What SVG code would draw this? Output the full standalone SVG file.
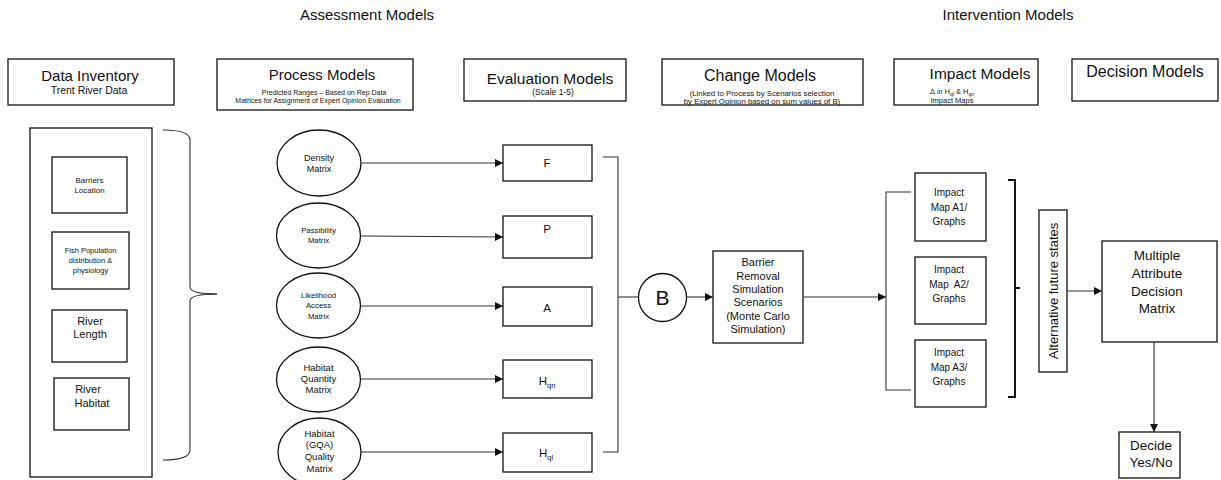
<svg xmlns="http://www.w3.org/2000/svg" width="1221" height="480" viewBox="0 0 1221 480">
  <style>
    text { font-family: "Liberation Sans", Arial, sans-serif; fill: #111; text-anchor: middle; }
    .box { fill: #fff; stroke: #111; stroke-width: 1.3; }
    .line { fill: none; stroke: #333; stroke-width: 1.1; }
    .arrow { fill: none; stroke: #333; stroke-width: 1.1; marker-end: url(#head); }
    .thick { fill: none; stroke: #111; stroke-width: 2; }
    .h1 { font-size: 15.5px; }
    .sub { font-size: 7px; }
  </style>
  <defs>
    <marker id="head" viewBox="0 0 10 10" refX="10" refY="5" markerWidth="8" markerHeight="8" markerUnits="userSpaceOnUse" orient="auto">
      <path d="M0,0 L10,5 L0,10 z" fill="#111"/>
    </marker>
  </defs>

  <rect width="1221" height="480" fill="#fff"/>

  <!-- stage headings -->
  <text x="367" y="20" font-size="15">Assessment Models</text>
  <text x="1008" y="20" font-size="15">Intervention Models</text>

  <!-- header boxes -->
  <g id="hdr-data">
    <rect class="box" x="8" y="59" width="166" height="46"/>
    <text x="90" y="81" font-size="15">Data Inventory</text>
    <text x="89" y="94" font-size="10.5">Trent River Data</text>
  </g>
  <g id="hdr-process">
    <rect class="box" x="217" y="59" width="196" height="51"/>
    <text x="322" y="80" font-size="15">Process Models</text>
    <text x="324" y="95" class="sub">Predicted Ranges – Based on Rep Data</text>
    <text x="318" y="103" class="sub">Matrices for Assignment of Expert Opinion Evaluation</text>
  </g>
  <g id="hdr-evaluation">
    <rect class="box" x="464" y="59" width="162" height="42"/>
    <text x="550" y="84" font-size="15.5">Evaluation Models</text>
    <text x="553" y="95" font-size="8.5">(Scale 1-5)</text>
  </g>
  <g id="hdr-change">
    <rect class="box" x="662" y="59" width="201" height="46"/>
    <text x="760" y="81" font-size="16">Change Models</text>
    <text x="762" y="96" font-size="7.8">(Linked to Process by Scenarios selection</text>
    <text x="762" y="104" font-size="7.8">by Expert Opinion based on sum values of B)</text>
  </g>
  <g id="hdr-impact">
    <rect class="box" x="894" y="59" width="144" height="46"/>
    <text x="980" y="79" font-size="15.5">Impact Models</text>
    <text x="952" y="94" font-size="7.5">Δ <tspan font-family="'Liberation Serif', serif" font-style="italic">in</tspan> H<tspan font-size="5" dy="1.5">ql</tspan><tspan dy="-1.5"> &amp; H</tspan><tspan font-size="5" dy="1.5">qn</tspan></text>
    <text x="952" y="103" font-size="7.5">Impact Maps</text>
  </g>
  <g id="hdr-decision">
    <rect class="box" x="1072" y="59" width="146" height="42"/>
    <text x="1145" y="77" font-size="16">Decision Models</text>
  </g>

  <!-- data inventory column -->
  <g id="data-inventory">
    <rect class="box" x="30" y="128" width="122" height="349"/>
  </g>
  <g id="barriers">
    <rect class="box" x="52" y="157" width="75" height="56"/>
    <text x="89.5" y="183" font-size="8">Barriers</text>
    <text x="89.5" y="193" font-size="8">Location</text>
  </g>
  <g id="fish">
    <rect class="box" x="52" y="232" width="77" height="57"/>
    <text x="90.5" y="253" font-size="7.5">Fish Population</text>
    <text x="90.5" y="263" font-size="7.5">distribution &amp;</text>
    <text x="90.5" y="273" font-size="7.5">physiology</text>
  </g>
  <g id="river-length">
    <rect class="box" x="52" y="310" width="75" height="52"/>
    <text x="90" y="325" font-size="11">River</text>
    <text x="90" y="338" font-size="11">Length</text>
  </g>
  <g id="river-habitat">
    <rect class="box" x="54" y="378" width="75" height="52"/>
    <text x="88" y="393" font-size="11">River</text>
    <text x="92" y="407" font-size="11">Habitat</text>
  </g>

  <!-- process model ellipses -->
  <g id="density">
    <ellipse class="box" cx="319" cy="163" rx="42" ry="33"/>
    <text x="319" y="161" font-size="9">Density</text>
    <text x="319" y="172" font-size="9">Matrix</text>
  </g>
  <g id="passibility">
    <ellipse class="box" cx="318.5" cy="235.5" rx="42" ry="32.5"/>
    <text x="318.5" y="233" font-size="7.8">Passibility</text>
    <text x="318.5" y="243" font-size="7.8">Matrix</text>
  </g>
  <g id="likelihood">
    <ellipse class="box" cx="318.5" cy="305.5" rx="42" ry="32.5"/>
    <text x="318.5" y="298" font-size="7.8">Likelihood</text>
    <text x="318.5" y="308" font-size="7.8">Access</text>
    <text x="318.5" y="319" font-size="7.8">Matrix</text>
  </g>
  <g id="habitat-quantity">
    <ellipse class="box" cx="318.5" cy="379.5" rx="42" ry="32.5"/>
    <text x="318.5" y="371" font-size="9.5">Habitat</text>
    <text x="318.5" y="382" font-size="9.5">Quantity</text>
    <text x="318.5" y="393" font-size="9.5">Matrix</text>
  </g>
  <g id="habitat-quality">
    <ellipse class="box" cx="319.5" cy="452" rx="41.5" ry="34"/>
    <text x="319.5" y="437" font-size="9.5">Habitat</text>
    <text x="319.5" y="448" font-size="9.5">(GQA)</text>
    <text x="319.5" y="460" font-size="9.5">Quality</text>
    <text x="319.5" y="472" font-size="9.5">Matrix</text>
  </g>

  <!-- evaluation boxes -->
  <g id="eval-f">
    <rect class="box" x="503" y="145" width="89" height="36"/>
    <text x="547" y="167" font-size="11.5">F</text>
  </g>
  <g id="eval-p">
    <rect class="box" x="503" y="216" width="89" height="42"/>
    <text x="547" y="233" font-size="11.5">P</text>
  </g>
  <g id="eval-a">
    <rect class="box" x="503" y="287" width="89" height="39"/>
    <text x="547" y="312" font-size="11.5">A</text>
  </g>
  <g id="eval-hqn">
    <rect class="box" x="503" y="360" width="89" height="38"/>
    <text x="547" y="385" font-size="11.5">H<tspan font-size="7.5" dy="3">qn</tspan></text>
  </g>
  <g id="eval-hql">
    <rect class="box" x="503" y="433" width="89" height="39"/>
    <text x="546" y="457" font-size="11.5">H<tspan font-size="7.5" dy="3">ql</tspan></text>
  </g>

  <!-- sum node and change model -->
  <g id="b-node">
    <circle class="box" cx="662.5" cy="297.5" r="24"/>
    <text x="662.5" y="305" font-size="21">B</text>
  </g>
  <g id="barrier-removal">
    <rect class="box" x="713" y="251" width="90" height="92"/>
    <text x="758" y="266" font-size="11">Barrier</text>
    <text x="758" y="279.5" font-size="11">Removal</text>
    <text x="758" y="293" font-size="11">Simulation</text>
    <text x="758" y="306" font-size="11">Scenarios</text>
    <text x="758" y="319.5" font-size="11">(Monte Carlo</text>
    <text x="758" y="333" font-size="11">Simulation)</text>
  </g>

  <!-- impact maps -->
  <g id="impact-a1">
    <rect class="box" x="915" y="173" width="71" height="68"/>
    <text x="949" y="196" font-size="10">Impact</text>
    <text x="949" y="210.5" font-size="10">Map A1/</text>
    <text x="949" y="225" font-size="10">Graphs</text>
  </g>
  <g id="impact-a2">
    <rect class="box" x="915" y="257" width="71" height="67"/>
    <text x="949" y="273" font-size="10">Impact</text>
    <text x="949" y="287.5" font-size="10" xml:space="preserve">Map  A2/</text>
    <text x="949" y="302" font-size="10">Graphs</text>
  </g>
  <g id="impact-a3">
    <rect class="box" x="915" y="340" width="71" height="67"/>
    <text x="949" y="356" font-size="10">Impact</text>
    <text x="949" y="370.5" font-size="10">Map A3/</text>
    <text x="949" y="385" font-size="10">Graphs</text>
  </g>

  <g id="future-states">
    <rect class="box" x="1039" y="210" width="28" height="162"/>
    <text transform="translate(1057.5,291) rotate(-90)" font-size="13">Alternative future states</text>
  </g>

  <g id="madm">
    <rect class="box" x="1102" y="241" width="115" height="101"/>
    <text x="1157" y="260" font-size="13.5">Multiple</text>
    <text x="1157" y="278" font-size="13.5">Attribute</text>
    <text x="1157" y="296" font-size="13.5">Decision</text>
    <text x="1157" y="313" font-size="13.5">Matrix</text>
  </g>

  <g id="decide">
    <rect class="box" x="1119" y="432" width="61" height="46"/>
    <text x="1151" y="450" font-size="13.5">Decide</text>
    <text x="1151" y="467" font-size="13.5">Yes/No</text>
  </g>

  <!-- connectors -->
  <g id="connectors">
    <!-- brace grouping the data inventory -->
    <path class="line" d="M163,130 Q190,130 190,140 L190,287 Q190,294 217,294 Q190,294 190,301 L190,450 Q190,460 163,460"/>
    <line class="line" x1="205" y1="294" x2="217" y2="294" stroke-width="1.6"/>

    <!-- ellipse to score arrows -->
    <line class="arrow" x1="361" y1="163" x2="503" y2="163"/>
    <line class="arrow" x1="360.5" y1="236" x2="503" y2="237"/>
    <line class="arrow" x1="360.5" y1="306" x2="503" y2="306"/>
    <line class="arrow" x1="360.5" y1="379" x2="503" y2="379"/>
    <line class="arrow" x1="361" y1="452" x2="503" y2="452"/>

    <!-- bracket joining the scores into B -->
    <path class="line" d="M603,157 L618,157 L618,452 L603,452"/>
    <line class="line" x1="618" y1="297" x2="638.5" y2="297"/>

    <line class="arrow" x1="686.5" y1="297" x2="713" y2="297"/>
    <line class="arrow" x1="803" y1="297" x2="886" y2="297"/>

    <!-- fan out to the impact maps -->
    <path class="line" d="M911,192 L886,192 L886,390 L911,390"/>

    <!-- bracket over the impact maps -->
    <path class="thick" d="M1008,180 L1015,180 L1015,397 L1008,397"/>
    <line class="thick" x1="1015" y1="288" x2="1020" y2="288"/>

    <line class="arrow" x1="1067" y1="291" x2="1102" y2="291"/>
    <line class="arrow" x1="1154" y1="342" x2="1154" y2="432"/>
  </g>
</svg>
